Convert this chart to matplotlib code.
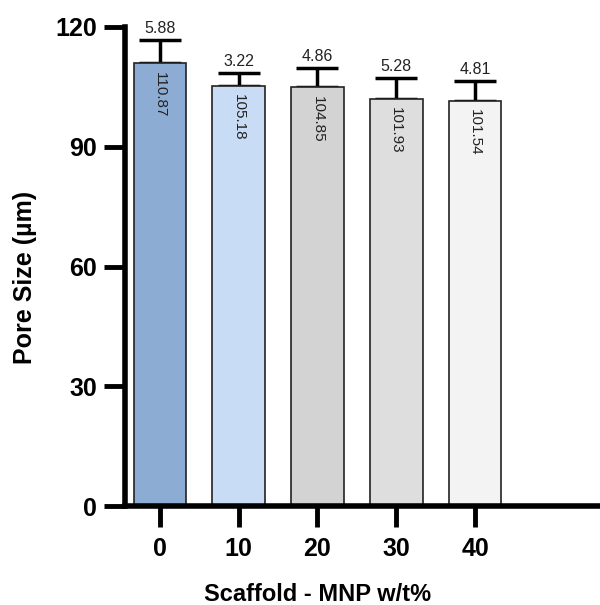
import numpy as np
import matplotlib
matplotlib.use('Agg')
import matplotlib.pyplot as plt

plt.rcParams['font.family'] = ['Liberation Sans', 'DejaVu Sans']

# data
groups = ['0', '10', '20', '30', '40']
pore_size = [110.87, 105.18, 104.85, 101.93, 101.54]
pore_sd = [5.88, 3.22, 4.86, 5.28, 4.81]
bar_colors = ['#8DACD4', '#C9DCF5', '#D3D3D3', '#DEDEDE', '#F3F3F3']

fig = plt.figure(figsize=(6.0, 6.05), dpi=100)
ax = fig.add_axes([125/600, 99/605, 475/600, 479/605])

x = np.arange(len(groups))
ax.bar(x, pore_size, width=0.67, color=bar_colors, edgecolor='#222222',
       linewidth=1.2, zorder=2)
ax.errorbar(x, pore_size, yerr=[np.zeros(len(x)), pore_sd], fmt='none',
            ecolor='black', elinewidth=2.5, capsize=15, capthick=2.5, zorder=1)

for xi, m, s in zip(x, pore_size, pore_sd):
    # sd above the cap
    ax.annotate('%.2f' % s, (xi, m + s), xytext=(0, 3), textcoords='offset points',
                ha='center', va='bottom', fontsize=11.5, color='#222222')
    # mean written down inside the bar
    ax.annotate('%.2f' % m, (xi, m), xytext=(0, -6), textcoords='offset points',
                ha='center', va='top', rotation=270, fontsize=11, color='#222222')

ax.set_xlim(-0.444, 5.587)
ax.set_ylim(0, 120)
ax.set_yticks([0, 30, 60, 90, 120])
ax.set_xticks(x)
ax.set_xticklabels(groups)

for side in ['top', 'right']:
    ax.spines[side].set_visible(False)
ax.spines['left'].set_linewidth(4)
ax.spines['bottom'].set_linewidth(4)
ax.tick_params(axis='both', width=3.5, length=15, labelsize=18)
ax.tick_params(axis='y', pad=5)
ax.tick_params(axis='x', pad=7)
for lab in ax.get_xticklabels() + ax.get_yticklabels():
    lab.set_fontweight('bold')

ax.set_ylabel('Pore Size (µm)', fontsize=18, fontweight='bold')
ax.set_xlabel('Scaffold - MNP w/t%', fontsize=17, fontweight='bold')
# labels sit over the bars / slightly below mid-axis as in the original
ax.yaxis.set_label_coords(-0.186, 0.478)
ax.xaxis.set_label_coords(2, -0.161, transform=ax.get_xaxis_transform())

fig.savefig('out.png', dpi=100)
